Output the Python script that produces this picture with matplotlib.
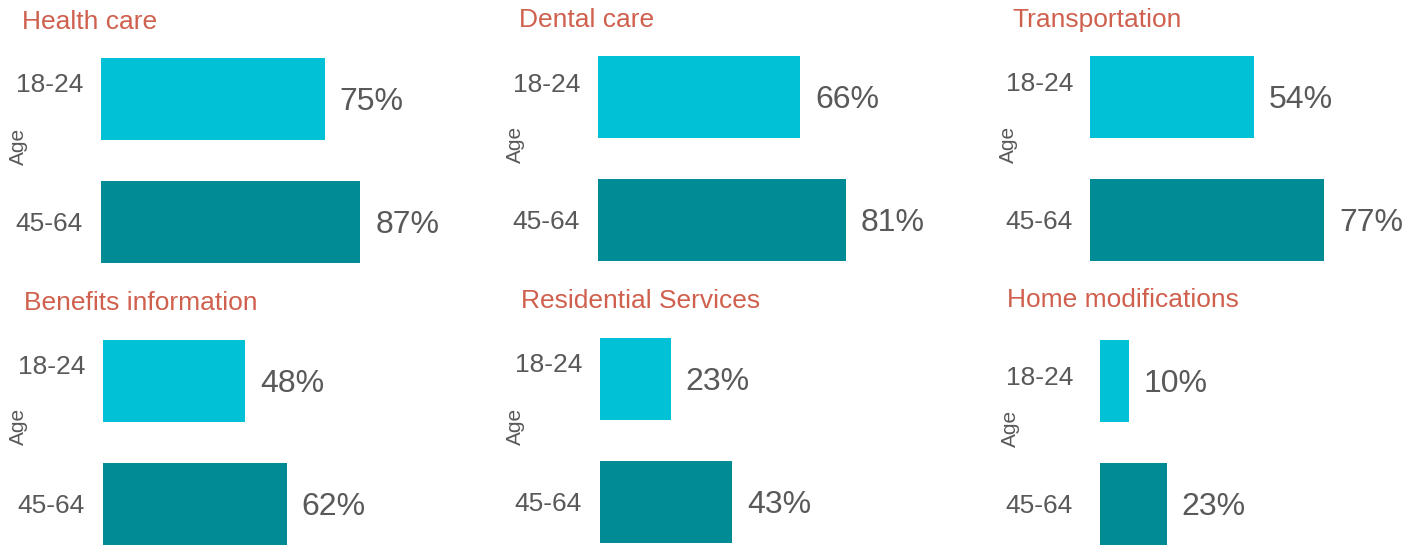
import matplotlib.pyplot as plt

# 数据
titles = ["Health care", "Dental care", "Transportation",
          "Benefits information", "Residential Services", "Home modifications"]
ages = ["18-24", "45-64"]
young = [75, 66, 54, 48, 23, 10]
older = [87, 81, 77, 62, 43, 23]

c_young = "#00C1D5"
c_old = "#008B95"
c_title = "#D0604E"
c_text = "#595959"

W, H = 1421, 548
fig = plt.figure(figsize=(W / 100, H / 100), dpi=100)
plt.rcParams['font.family'] = ['Liberation Sans', 'DejaVu Sans']

# 每个面板的像素布局: 条形起点, 第一条中心y, 100%宽度, 标题位置, 18-24偏移
bar_x = [101, 598, 1090, 103, 600, 1100]
center_y = [99, 97, 97, 381, 379, 381]
scale_w = [298, 306, 304, 296, 308, 290]
title_pos = [(22, 22), (519, 20), (1012, 20), (24, 303), (521, 301), (1007, 300)]
age_pos = [(18, 146), (515, 144), (1008, 144), (18, 426), (515, 426), (1010, 428)]
lab_shift = [16, 14, 15, 16, 16, 5]
lab_pad = [18, 18, 17, 18, 18, 27]
step = 123

for i in range(6):
    top = center_y[i] - step / 2
    bottom = center_y[i] + step * 1.5
    ax = fig.add_axes([bar_x[i] / W, 1 - bottom / H, scale_w[i] / W, (bottom - top) / H])
    vals = [young[i], older[i]]
    ax.barh([0, 1], vals, height=82 / step, color=[c_young, c_old])
    ax.set_xlim(0, 100)
    ax.set_ylim(1.5, -0.5)
    ax.axis('off')

    for j, v in enumerate(vals):
        ax.annotate(f"{v}%", xy=(v, j), xytext=(15, -3), textcoords='offset pixels',
                    ha='left', va='center', fontsize=23, color=c_text)
        dy = lab_shift[i] if j == 0 else 0
        ax.annotate(ages[j], xy=(0, j), xytext=(-lab_pad[i], dy - 2), textcoords='offset pixels',
                    ha='right', va='center', fontsize=19, color=c_text)

    tx, ty = title_pos[i]
    fig.text(tx / W, 1 - ty / H, titles[i], ha='left', va='center', fontsize=19, color=c_title)
    axp, ayp = age_pos[i]
    fig.text(axp / W, 1 - ayp / H, "Age", ha='center', va='center', rotation=90,
             fontsize=15, color=c_text)

fig.savefig("out.png", dpi=100)
